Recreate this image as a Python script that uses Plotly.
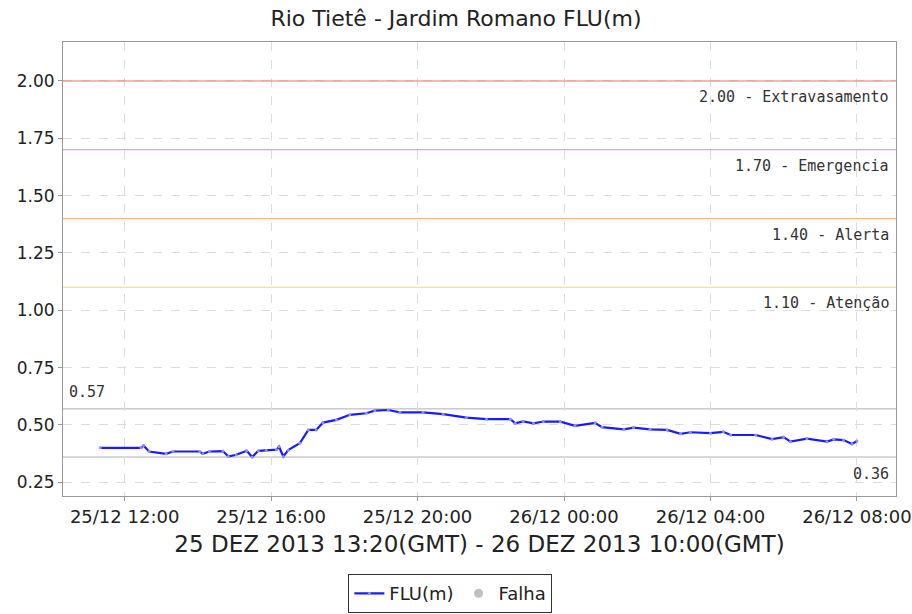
import plotly.graph_objects as go

# Data (local time, 25/12/2013 - 26/12/2013)
times = [
    "2013-12-25 11:20", "2013-12-25 12:27", "2013-12-25 12:31", "2013-12-25 12:40", "2013-12-25 13:08",
    "2013-12-25 13:19", "2013-12-25 14:03", "2013-12-25 14:08", "2013-12-25 14:19", "2013-12-25 14:41",
    "2013-12-25 14:50", "2013-12-25 15:03", "2013-12-25 15:20", "2013-12-25 15:29", "2013-12-25 15:39",
    "2013-12-25 15:52", "2013-12-25 16:09", "2013-12-25 16:13", "2013-12-25 16:20", "2013-12-25 16:28",
    "2013-12-25 16:47", "2013-12-25 17:01", "2013-12-25 17:14", "2013-12-25 17:25", "2013-12-25 17:47",
    "2013-12-25 18:09", "2013-12-25 18:36", "2013-12-25 18:50", "2013-12-25 19:12", "2013-12-25 19:31",
    "2013-12-25 20:09", "2013-12-25 20:42", "2013-12-25 21:20", "2013-12-25 21:53", "2013-12-25 22:32",
    "2013-12-25 22:40", "2013-12-25 22:53", "2013-12-25 23:10", "2013-12-25 23:26", "2013-12-25 23:54",
    "2013-12-26 00:18", "2013-12-26 00:51", "2013-12-26 01:02", "2013-12-26 01:38", "2013-12-26 01:54",
    "2013-12-26 02:21", "2013-12-26 02:49", "2013-12-26 03:11", "2013-12-26 03:27", "2013-12-26 04:00",
    "2013-12-26 04:21", "2013-12-26 04:33", "2013-12-26 05:14", "2013-12-26 05:41", "2013-12-26 06:00",
    "2013-12-26 06:11", "2013-12-26 06:38", "2013-12-26 07:11", "2013-12-26 07:22", "2013-12-26 07:38",
    "2013-12-26 07:52", "2013-12-26 08:00",
]
flu = [
    0.40, 0.40, 0.41, 0.384, 0.374,
    0.384, 0.384, 0.374, 0.384, 0.386,
    0.362, 0.370, 0.387, 0.360, 0.387,
    0.388, 0.392, 0.405, 0.362, 0.390,
    0.420, 0.478, 0.478, 0.510, 0.522,
    0.544, 0.551, 0.562, 0.565, 0.555,
    0.555, 0.547, 0.532, 0.525, 0.525,
    0.507, 0.515, 0.507, 0.515, 0.514,
    0.496, 0.509, 0.490, 0.481, 0.488,
    0.481, 0.478, 0.461, 0.468, 0.464,
    0.470, 0.456, 0.456, 0.438, 0.447,
    0.427, 0.440, 0.427, 0.437, 0.434,
    0.417, 0.430,
]

ref_levels = [2.00, 1.70, 1.40, 1.10]
ref_labels = ["2.00 - Extravasamento", "1.70 - Emergencia", "1.40 - Alerta", "1.10 - Atenção"]
ref_colors = ["#f07070", "#ff70ff", "#ffb888", "#ffe470"]
max_val, min_val = 0.57, 0.36

y_ticks = [0.25, 0.50, 0.75, 1.00, 1.25, 1.50, 1.75, 2.00]

fig = go.Figure()
fig.add_trace(go.Scatter(
    x=times, y=flu, mode="lines+markers", name="FLU(m)",
    line=dict(color="#1a1aff", width=2.2),
    marker=dict(size=3, color="#8f8fff"),
))
fig.add_trace(go.Scatter(
    x=[None], y=[None], mode="markers", name="Falha",
    marker=dict(size=9, color="#c0c0c0"),
))

ann_font = dict(family="DejaVu Sans Mono", size=15, color="#333")
for lvl, lab, col in zip(ref_levels, ref_labels, ref_colors):
    fig.add_shape(type="line", xref="paper", x0=0, x1=1, yref="y", y0=lvl, y1=lvl,
                  line=dict(color=col, width=1.2), layer="above")
    fig.add_annotation(xref="paper", x=1, xanchor="right", xshift=-5,
                       yref="y", y=lvl, yanchor="top", yshift=-5, showarrow=False,
                       text=lab, font=ann_font)

for v in (max_val, min_val):
    fig.add_shape(type="line", xref="paper", x0=0, x1=1, yref="y", y0=v, y1=v,
                  line=dict(color="#b0b0b0", width=1), layer="between")
fig.add_annotation(xref="paper", x=0, xanchor="left", xshift=4, yref="y", y=max_val,
                   yanchor="bottom", yshift=6, showarrow=False, text=f"{max_val:.2f}",
                   font=ann_font)
fig.add_annotation(xref="paper", x=1, xanchor="right", xshift=-5, yref="y", y=min_val,
                   yanchor="top", yshift=-6, showarrow=False, text=f"{min_val:.2f}",
                   font=ann_font)

fig.update_layout(
    width=912, height=614,
    margin=dict(l=63, r=16, t=42, b=118, autoexpand=False),
    paper_bgcolor="white", plot_bgcolor="white",
    title=dict(text="Rio Tietê - Jardim Romano FLU(m)", x=0.5, xanchor="center",
               y=0.97, yanchor="middle",
               font=dict(family="DejaVu Sans", size=22, color="#222")),
    font=dict(family="DejaVu Sans", color="#222"),
    showlegend=True,
    legend=dict(orientation="h", x=0.465, xanchor="center", y=-0.172, yanchor="top",
                bordercolor="#333", borderwidth=1, font=dict(size=18),
                itemwidth=30, tracegroupgap=0),
    xaxis=dict(
        range=["2013-12-25 10:19", "2013-12-26 09:04"],
        tickformat="%d/%m %H:%M", dtick=4 * 3600 * 1000, tick0="2013-12-25 00:00",
        showgrid=True, gridcolor="#dcdcdc", griddash="dash",
        showline=True, linecolor="#999", mirror=True,
        ticks="outside", ticklen=4, tickcolor="#999",
        tickfont=dict(size=18), automargin=False,
        title=dict(text="25 DEZ 2013 13:20(GMT) - 26 DEZ 2013 10:00(GMT)",
                   font=dict(size=23), standoff=10),
        zeroline=False,
    ),
    yaxis=dict(
        range=[0.19, 2.17], tickvals=y_ticks, tickformat=".2f",
        showgrid=True, gridcolor="#dcdcdc", griddash="dash",
        showline=True, linecolor="#999", mirror=True,
        ticks="outside", ticklen=4, tickcolor="#999",
        tickfont=dict(size=17), zeroline=False, automargin=False,
    ),
)

fig.write_html("out.html", config={"displayModeBar": False},
               post_script="document.body.style.margin='0';")
